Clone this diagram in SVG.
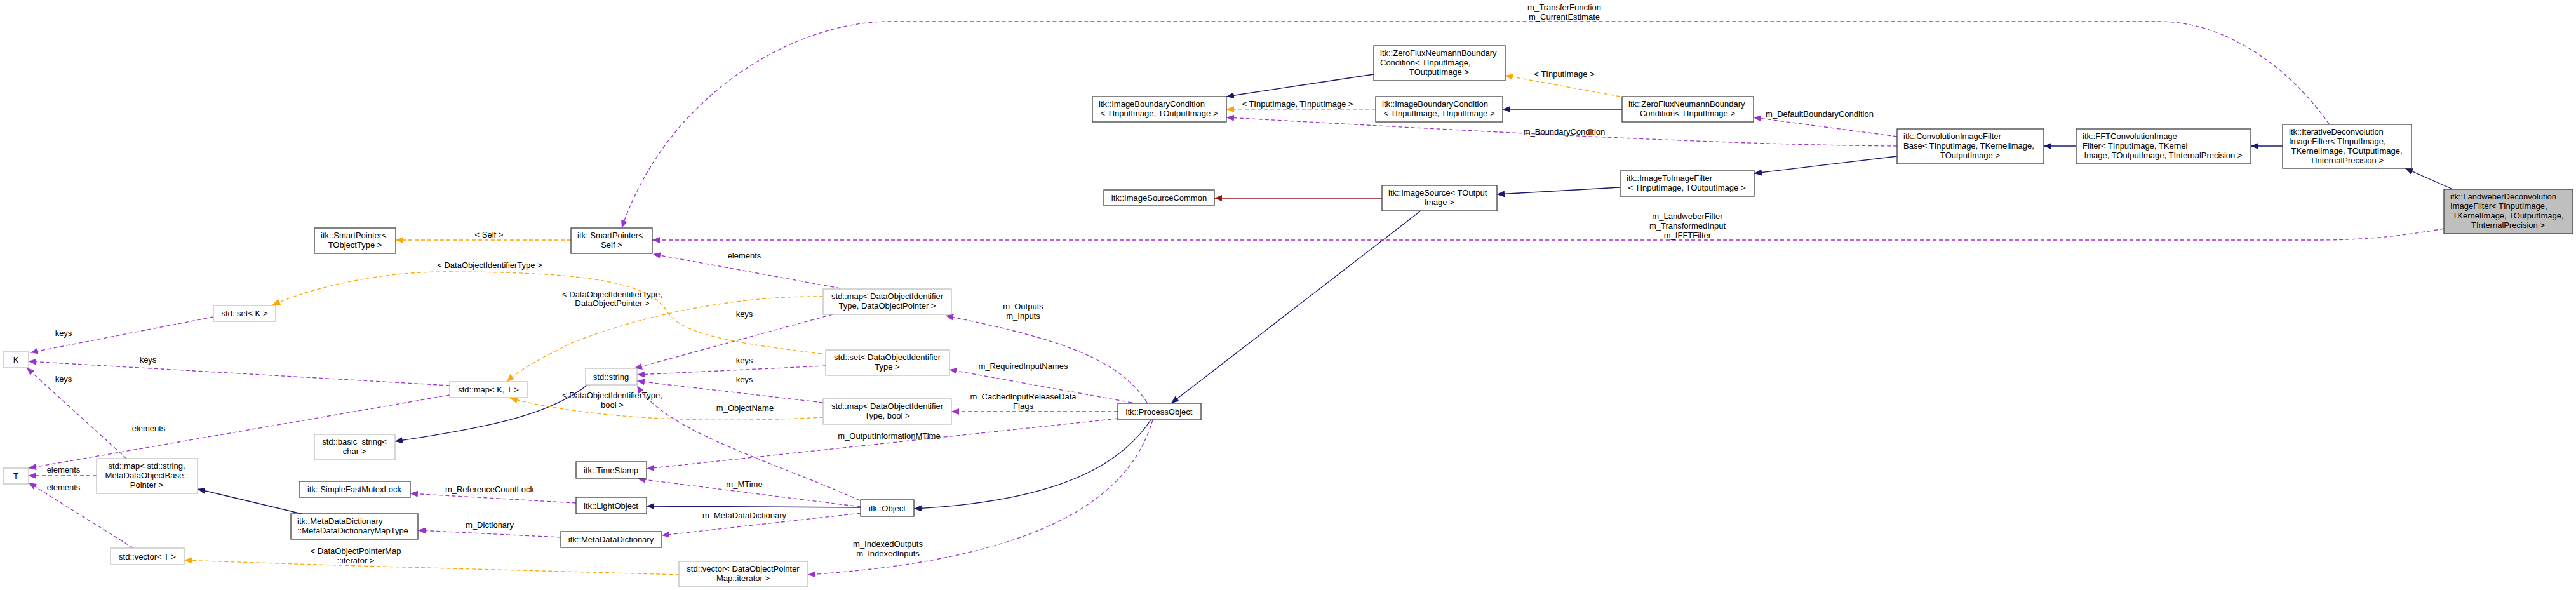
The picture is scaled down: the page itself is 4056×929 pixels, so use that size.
<svg xmlns="http://www.w3.org/2000/svg" width="4056" height="929" viewBox="0 0 4056 929">
<style>
text{font-family:"Liberation Sans",Arial,sans-serif;font-size:13px;fill:#000}
.c{text-anchor:middle}
.nb rect{fill:#fff;stroke:#404040;stroke-width:1.3}
.ng rect{fill:#fff;stroke:#bfbfbf;stroke-width:1.3}
path{fill:none;stroke-width:1.3}
.i{stroke:#191970;marker-end:url(#ai)}
.r{stroke:#8b1a1a;marker-end:url(#ar)}
.u{stroke:#9a32cd;stroke-dasharray:6,4;marker-end:url(#au)}
.t{stroke:#ffa500;stroke-dasharray:6,4;marker-end:url(#at)}
</style>
<defs>
<marker id="ai" markerUnits="userSpaceOnUse" markerWidth="12" markerHeight="10" refX="12" refY="5" orient="auto"><path d="M0,0L12,5L0,10z" style="fill:#191970;stroke:none"/></marker>
<marker id="ar" markerUnits="userSpaceOnUse" markerWidth="12" markerHeight="10" refX="12" refY="5" orient="auto"><path d="M0,0L12,5L0,10z" style="fill:#8b1a1a;stroke:none"/></marker>
<marker id="au" markerUnits="userSpaceOnUse" markerWidth="12" markerHeight="10" refX="12" refY="5" orient="auto"><path d="M0,0L12,5L0,10z" style="fill:#9a32cd;stroke:none"/></marker>
<marker id="at" markerUnits="userSpaceOnUse" markerWidth="12" markerHeight="10" refX="12" refY="5" orient="auto"><path d="M0,0L12,5L0,10z" style="fill:#ffa500;stroke:none"/></marker>
</defs>
<rect width="4056" height="929" fill="#fff"/>
<g id="edges">
<path class="i" d="M3862,298 L3787,265"/>
<path class="i" d="M3594,230 L3544,230"/>
<path class="i" d="M3269,230 L3218,230"/>
<path class="i" d="M2987,246 L2762,273"/>
<path class="i" d="M2551,295 L2357,306"/>
<path class="r" d="M2176,312 L1912,312"/>
<path class="i" d="M2237,332 L1844,635"/>
<path class="i" d="M1812,661 C1760,740 1650,790 1439,801"/>
<path class="i" d="M1355,799 L1018,797"/>
<path class="i" d="M925,606 C870,650 780,672 622,695"/>
<path class="i" d="M475,809 L311,770"/>
<path class="i" d="M2163,117 L1931,152"/>
<path class="i" d="M2554,172 L2366,172"/>
<path class="t" d="M2166,172 L1931,172"/>
<path class="t" d="M2551,152 L2370,119"/>
<path class="t" d="M1069,905 C900,900 500,890 290,882"/>
<path class="t" d="M1294,557 C1150,540 1070,525 1050,490 C1020,440 900,428 700,428 C600,428 500,450 429,480"/>
<path class="t" d="M1296,467 C1150,465 1000,500 900,540 C860,560 820,580 798,601"/>
<path class="t" d="M1296,657 C1150,665 950,665 803,627"/>
<path class="t" d="M899,378 L623,378"/>
<path class="u" d="M2987,215 L2761,185"/>
<path class="u" d="M2987,230 C2700,228 2300,205 1931,185"/>
<path class="u" d="M3667,195 C3600,100 3500,34 3400,34 L1400,34 C1250,34 1050,150 979,359"/>
<path class="u" d="M3848,360 C3780,372 3720,378 3650,378 L1027,378"/>
<path class="u" d="M1323,454 L1028,400"/>
<path class="u" d="M1806,634 C1760,560 1650,530 1489,497"/>
<path class="u" d="M1782,634 L1495,582"/>
<path class="u" d="M1760,648 L1498,648"/>
<path class="u" d="M1760,659 L1018,738"/>
<path class="u" d="M1815,661 C1780,780 1650,880 1272,905"/>
<path class="u" d="M1354,788 C1200,720 1050,680 1003,607"/>
<path class="u" d="M1355,798 L1004,754"/>
<path class="u" d="M1355,808 L1042,843"/>
<path class="u" d="M907,792 L646,777"/>
<path class="u" d="M883,846 L658,835"/>
<path class="u" d="M210,863 L45,760"/>
<path class="u" d="M152,749 L45,749"/>
<path class="u" d="M199,722 L42,579"/>
<path class="u" d="M708,607 L45,569"/>
<path class="u" d="M708,622 L45,737"/>
<path class="u" d="M336,499 L48,555"/>
<path class="u" d="M1311,495 L999,580"/>
<path class="u" d="M1300,576 L1003,590"/>
<path class="u" d="M1296,634 L1003,600"/>
<g class="c">
<text x="2043" y="168">&lt; TInputImage, TInputImage &gt;</text>
<text x="2463" y="121">&lt; TInputImage &gt;</text>
<text x="560" y="872">&lt; DataObjectPointerMap</text><text x="560" y="887">::iterator &gt;</text>
<text x="771" y="422">&lt; DataObjectIdentifierType &gt;</text>
<text x="964" y="468">&lt; DataObjectIdentifierType,</text><text x="964" y="482">DataObjectPointer &gt;</text>
<text x="964" y="627">&lt; DataObjectIdentifierType,</text><text x="964" y="642">bool &gt;</text>
<text x="770" y="374">&lt; Self &gt;</text>
<text x="2865" y="184">m_DefaultBoundaryCondition</text>
<text x="2463" y="212">m_BoundaryCondition</text>
<text x="2463" y="16">m_TransferFunction</text><text x="2463" y="31">m_CurrentEstimate</text>
<text x="2657" y="345">m_LandweberFilter</text><text x="2657" y="360">m_TransformedInput</text><text x="2657" y="375">m_IFFTFilter</text>
<text x="1172" y="407">elements</text>
<text x="1611" y="487">m_Outputs</text><text x="1611" y="502">m_Inputs</text>
<text x="1611" y="581">m_RequiredInputNames</text>
<text x="1611" y="629">m_CachedInputReleaseData</text><text x="1611" y="644">Flags</text>
<text x="1400" y="691">m_OutputInformationMTime</text>
<text x="1398" y="861">m_IndexedOutputs</text><text x="1398" y="876">m_IndexedInputs</text>
<text x="1173" y="647">m_ObjectName</text>
<text x="1172" y="767">m_MTime</text>
<text x="1172" y="816">m_MetaDataDictionary</text>
<text x="771" y="775">m_ReferenceCountLock</text>
<text x="771" y="831">m_Dictionary</text>
<text x="100" y="772">elements</text>
<text x="100" y="744">elements</text>
<text x="100" y="601">keys</text>
<text x="233" y="571">keys</text>
<text x="234" y="679">elements</text>
<text x="100" y="529">keys</text>
<text x="1172" y="499">keys</text>
<text x="1172" y="572">keys</text>
<text x="1172" y="602">keys</text>
</g>
</g>
<g id="n_sp_tobj" class="nb"><rect x="495" y="359" width="128" height="40"/><text x="505" y="375">itk::SmartPointer&lt;</text><text class="c" x="559" y="390">TObjectType &gt;</text></g>
<g id="n_setk" class="ng"><rect x="336" y="481" width="98" height="25"/><text class="c" x="385" y="498">std::set&lt; K &gt;</text></g>
<g id="n_k" class="ng"><rect x="5" y="554" width="40" height="25"/><text class="c" x="25" y="571">K</text></g>
<g id="n_t" class="ng"><rect x="5" y="737" width="40" height="25"/><text class="c" x="25" y="754">T</text></g>
<g id="n_mapstr" class="ng"><rect x="152" y="722" width="159" height="55"/><text class="c" x="231" y="738">std::map&lt; std::string,</text><text class="c" x="231" y="753">MetaDataObjectBase::</text><text class="c" x="231" y="768">Pointer &gt;</text></g>
<g id="n_bstr" class="ng"><rect x="495" y="684" width="127" height="40"/><text class="c" x="558" y="700">std::basic_string&lt;</text><text class="c" x="558" y="715">char &gt;</text></g>
<g id="n_mutex" class="nb"><rect x="471" y="758" width="175" height="25"/><text class="c" x="558" y="775">itk::SimpleFastMutexLock</text></g>
<g id="n_maptype" class="nb"><rect x="458" y="809" width="200" height="40"/><text x="468" y="825">itk::MetaDataDictionary</text><text x="468" y="840">::MetaDataDictionaryMapType</text></g>
<g id="n_vect" class="ng"><rect x="174" y="863" width="116" height="26"/><text class="c" x="232" y="881">std::vector&lt; T &gt;</text></g>
<g id="n_sp_self" class="nb"><rect x="899" y="359" width="128" height="40"/><text x="909" y="375">itk::SmartPointer&lt;</text><text class="c" x="963" y="390">Self &gt;</text></g>
<g id="n_mapptr" class="ng"><rect x="1296" y="455" width="202" height="40"/><text class="c" x="1397" y="471">std::map&lt; DataObjectIdentifier</text><text class="c" x="1397" y="486">Type, DataObjectPointer &gt;</text></g>
<g id="n_setid" class="ng"><rect x="1300" y="551" width="195" height="40"/><text class="c" x="1397" y="567">std::set&lt; DataObjectIdentifier</text><text class="c" x="1397" y="582">Type &gt;</text></g>
<g id="n_string" class="ng"><rect x="922" y="580" width="81" height="26"/><text class="c" x="962" y="598">std::string</text></g>
<g id="n_mapkt" class="ng"><rect x="708" y="601" width="122" height="25"/><text class="c" x="769" y="618">std::map&lt; K, T &gt;</text></g>
<g id="n_mapbool" class="ng"><rect x="1296" y="628" width="202" height="40"/><text class="c" x="1397" y="644">std::map&lt; DataObjectIdentifier</text><text class="c" x="1397" y="659">Type, bool &gt;</text></g>
<g id="n_timestamp" class="nb"><rect x="907" y="727" width="111" height="26"/><text class="c" x="962" y="745">itk::TimeStamp</text></g>
<g id="n_lightobject" class="nb"><rect x="907" y="783" width="111" height="26"/><text class="c" x="962" y="801">itk::LightObject</text></g>
<g id="n_mdd" class="nb"><rect x="883" y="837" width="159" height="25"/><text class="c" x="962" y="854">itk::MetaDataDictionary</text></g>
<g id="n_veciter" class="ng"><rect x="1069" y="884" width="203" height="40"/><text class="c" x="1170" y="900">std::vector&lt; DataObjectPointer</text><text class="c" x="1170" y="915">Map::iterator &gt;</text></g>
<g id="n_object" class="nb"><rect x="1355" y="787" width="84" height="26"/><text class="c" x="1397" y="805">itk::Object</text></g>
<g id="n_processobject" class="nb"><rect x="1760" y="635" width="131" height="26"/><text class="c" x="1825" y="653">itk::ProcessObject</text></g>
<g id="n_ibc_tt" class="nb"><rect x="1720" y="152" width="211" height="40"/><text x="1730" y="168">itk::ImageBoundaryCondition</text><text class="c" x="1825" y="183">&lt; TInputImage, TOutputImage &gt;</text></g>
<g id="n_isc" class="nb"><rect x="1738" y="299" width="174" height="25"/><text class="c" x="1825" y="316">itk::ImageSourceCommon</text></g>
<g id="n_zf_tt" class="nb"><rect x="2163" y="72" width="207" height="55"/><text x="2173" y="88">itk::ZeroFluxNeumannBoundary</text><text x="2173" y="103">Condition&lt; TInputImage,</text><text class="c" x="2266" y="118">TOutputImage &gt;</text></g>
<g id="n_ibc_ii" class="nb"><rect x="2166" y="152" width="200" height="40"/><text x="2176" y="168">itk::ImageBoundaryCondition</text><text class="c" x="2266" y="183">&lt; TInputImage, TInputImage &gt;</text></g>
<g id="n_zf_i" class="nb"><rect x="2554" y="152" width="207" height="40"/><text x="2564" y="168">itk::ZeroFluxNeumannBoundary</text><text class="c" x="2657" y="183">Condition&lt; TInputImage &gt;</text></g>
<g id="n_i2i" class="nb"><rect x="2551" y="269" width="211" height="40"/><text x="2561" y="285">itk::ImageToImageFilter</text><text class="c" x="2656" y="300">&lt; TInputImage, TOutputImage &gt;</text></g>
<g id="n_is" class="nb"><rect x="2176" y="292" width="181" height="40"/><text x="2186" y="308">itk::ImageSource&lt; TOutput</text><text class="c" x="2266" y="323">Image &gt;</text></g>
<g id="n_conv" class="nb"><rect x="2987" y="203" width="231" height="55"/><text x="2997" y="219">itk::ConvolutionImageFilter</text><text x="2997" y="234">Base&lt; TInputImage, TKernelImage,</text><text class="c" x="3102" y="249">TOutputImage &gt;</text></g>
<g id="n_fft" class="nb"><rect x="3269" y="203" width="275" height="55"/><text x="3279" y="219">itk::FFTConvolutionImage</text><text x="3279" y="234">Filter&lt; TInputImage, TKernel</text><text class="c" x="3406" y="249">Image, TOutputImage, TInternalPrecision &gt;</text></g>
<g id="n_iter" class="nb"><rect x="3594" y="196" width="203" height="69"/><text x="3604" y="212">itk::IterativeDeconvolution</text><text x="3604" y="227">ImageFilter&lt; TInputImage,</text><text class="c" x="3695" y="242">TKernelImage, TOutputImage,</text><text class="c" x="3695" y="257">TInternalPrecision &gt;</text></g>
<g id="n_land" class="nb"><rect x="3848" y="298" width="203" height="70" style="fill:#bfbfbf"/><text x="3858" y="314">itk::LandweberDeconvolution</text><text x="3858" y="329">ImageFilter&lt; TInputImage,</text><text class="c" x="3949" y="344">TKernelImage, TOutputImage,</text><text class="c" x="3949" y="359">TInternalPrecision &gt;</text></g>
</svg>
